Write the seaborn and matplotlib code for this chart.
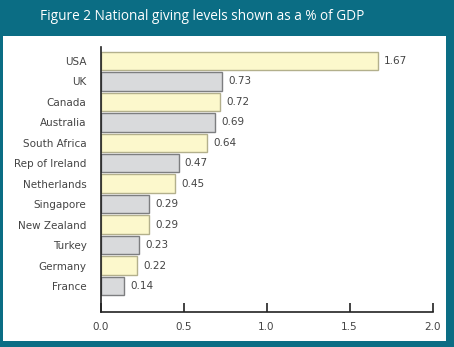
import matplotlib
matplotlib.use("Agg")
import matplotlib.pyplot as plt
import seaborn as sns
import pandas as pd
from matplotlib.patches import Rectangle

countries = ["USA", "UK", "Canada", "Australia", "South Africa", "Rep of Ireland",
             "Netherlands", "Singapore", "New Zealand", "Turkey", "Germany", "France"]
values = [1.67, 0.73, 0.72, 0.69, 0.64, 0.47, 0.45, 0.29, 0.29, 0.23, 0.22, 0.14]
xticks = [0.0, 0.5, 1.0, 1.5, 2.0]
title = "Figure 2 National giving levels shown as a % of GDP"

sns.set_style("white")
plt.rcParams['font.family'] = ['DejaVu Sans']

teal = "#0b6d84"
yellow = "#fcf8cc"
gray = "#d9dadc"
fills = [yellow if i % 2 == 0 else gray for i in range(len(countries))]
edges = ["#b3b08c" if i % 2 == 0 else "#7d7e80" for i in range(len(countries))]

W, H = 454, 347
fig = plt.figure(figsize=(W / 100, H / 100), dpi=100)
fig.patch.set_facecolor(teal)
bg = Rectangle((3 / W, 1 - 341 / H), (446 - 3) / W, (341 - 36) / H,
               transform=fig.transFigure, facecolor="white",
               edgecolor="none", zorder=-10)
fig.add_artist(bg)
fig.text(40 / W, 1 - 16 / H, title, color="white", fontsize=9.8,
         ha="left", va="center", family=["Open Sans", "DejaVu Sans"])

ax = fig.add_axes([100.5 / W, 1 - 312 / H, 332 / W, (312 - 47) / H])
ax.set_zorder(5)
ax.set_facecolor("none")

df = pd.DataFrame({"country": countries, "value": values})
sns.barplot(data=df, y="country", x="value", hue="country", palette=fills,
            legend=False, width=0.9, ax=ax, orient="h", saturation=1)
for patch, ec in zip(ax.patches, edges):
    patch.set_edgecolor(ec)
    patch.set_linewidth(1.0)

for i, v in enumerate(values):
    ax.annotate(f"{v:.2f}", xy=(v, i), xytext=(4.5, 0), textcoords="offset points",
                ha="left", va="center", fontsize=7.5, color="#444444")

ax.set_xlim(0, 2.0)
ax.set_ylim(12.27, -0.68)
ax.set_xticks(xticks)
ax.set_xticklabels([f"{t:.1f}" for t in xticks])
ax.set_xlabel("")
ax.set_ylabel("")
for s in ["top", "right"]:
    ax.spines[s].set_visible(False)
for s in ["left", "bottom"]:
    ax.spines[s].set_visible(True)
    ax.spines[s].set_color("#222222")
    ax.spines[s].set_linewidth(1.2)
ax.tick_params(axis="x", direction="in", length=6.5, width=1.2, color="#222222",
               pad=7, labelsize=7.5, labelcolor="#444444", bottom=True)
ax.tick_params(axis="y", length=0, pad=10, labelsize=7.5, labelcolor="#444444")

fig.savefig("out.png", dpi=100, facecolor=fig.get_facecolor())
